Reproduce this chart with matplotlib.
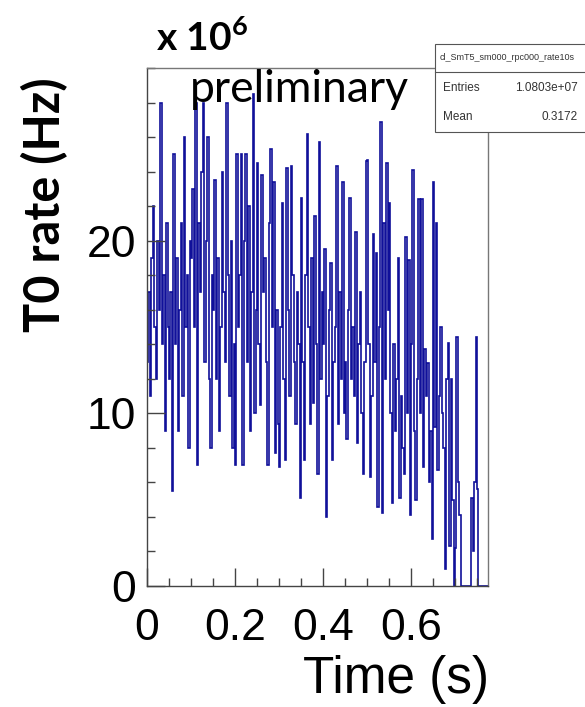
import numpy as np
import matplotlib
matplotlib.use('Agg')
import matplotlib.pyplot as plt
from matplotlib.patches import Rectangle
from matplotlib.lines import Line2D
from matplotlib.ticker import MultipleLocator

# T0 rate per bin, in units of 1e6 Hz (one row per 0.05 s)
rate = [
    13, 17, 11, 19, 22, 15, 12, 20, 16, 28, 14, 18, 9, 21, 15,
    12, 17, 5.5, 25, 14, 19, 9, 16, 21, 11, 26, 15, 18, 8, 20,
    19, 23, 15, 28, 7, 21, 17, 24, 28, 13, 20, 26, 12, 8, 18,
    16, 23.5, 12, 19, 9, 15, 24, 17, 13, 28, 18, 11, 20, 8, 14,
    7, 25, 15, 18, 25, 7, 20, 25, 13, 22, 9, 17, 28.5, 10, 16,
    24.5, 14, 10.5, 23.8, 17, 19, 13, 7, 21, 25.3, 15, 23.4, 7.7, 16, 9.4,
    6.9, 15, 22.2, 12, 7.3, 24.2, 16, 11, 24.3, 18, 13, 9.4, 17, 14, 5.1,
    22.5, 13, 7.3, 18, 26.2, 15, 9.4, 19, 10.6, 21.4, 14, 6.5, 25.7, 12, 17,
    14, 19.5, 4, 11, 16, 18.7, 7.3, 13, 15, 24.3, 9.4, 17, 12, 23.4, 10,
    13, 8.5, 16, 22.5, 12, 15, 11, 20.5, 8.3, 14, 17, 10, 6.5, 13, 24.6,
    24.7, 14, 6.3, 11, 20.4, 13, 19.3, 4.6, 15, 26.9, 4.2, 21, 12, 24.5, 16,
    22.2, 10, 4.8, 14, 9, 12, 19, 5.1, 11, 8, 6.5, 20.2, 10, 18.9, 4.1,
    14, 24.1, 9, 5, 12, 22.4, 10, 22.4, 6.9, 13.7, 11, 12.9, 6, 9, 2.7,
    23.4, 9.2, 21, 6.7, 11, 15, 10, 8, 1, 12, 14.1, 2.3, 12, 5, 0,
    2.2, 14.4, 6, 4.1, 0, 0, 0, 0, 0, 0, 0, 5.1, 2, 6, 14.4,
    5.6, 0, 0, 0, 0, 0, 0, 0,
]
bin_width = 1 / 300.0

x_ticks = [0, 0.2, 0.4, 0.6]
x_tick_labels = ['0', '0.2', '0.4', '0.6']
y_ticks = [0, 10, 20]
y_tick_labels = ['0', '10', '20']

hist_name = 'cl_SmT5_sm000_rpc000_rate10s'
entries = '1.0803e+07'
mean = '0.3172'

plt.rcParams['mathtext.fontset'] = 'custom'
plt.rcParams['mathtext.bf'] = 'Lato:bold'
plt.rcParams['mathtext.rm'] = 'Lato'


def main():
    fig = plt.figure(figsize=(5.85, 7.07), dpi=100)
    ax = fig.add_axes([147 / 585, 1 - 586 / 707, 341 / 585, 518 / 707])

    edges = np.arange(len(rate) + 1) * bin_width
    ax.stairs(rate, edges, baseline=0, color='#10109a', linewidth=1.2)

    ax.set_xlim(0, 0.775)
    ax.set_ylim(0, 30)

    ax.set_xticks(x_ticks)
    ax.set_xticklabels(x_tick_labels)
    ax.set_yticks(y_ticks)
    ax.set_yticklabels(y_tick_labels)
    ax.xaxis.set_minor_locator(MultipleLocator(0.05))
    ax.yaxis.set_minor_locator(MultipleLocator(2))
    ax.tick_params(which='major', direction='in', length=13, width=1, color='#444444',
                   labelsize=32, top=False, right=False)
    ax.tick_params(which='minor', direction='in', length=6, width=1, color='#444444',
                   top=False, right=False)
    ax.tick_params(axis='x', pad=16)
    ax.tick_params(axis='y', pad=8)
    for lab in ax.get_xticklabels() + ax.get_yticklabels():
        lab.set_family('Liberation Sans')

    for s in ax.spines.values():
        s.set_color('#777777')
        s.set_linewidth(1)
    ax.spines['left'].set_color('#444444')
    ax.spines['bottom'].set_color('#444444')

    fig.text(489 / 585, 1 - 680 / 707, 'Time (s)', ha='right', va='center',
             fontsize=37, family='Liberation Sans')
    fig.text(45 / 585, 1 - 205 / 707, 'T0 rate (Hz)', rotation=90, ha='center', va='center',
             fontsize=35, fontweight='bold', family='Lato')
    fig.text(156 / 585, 1 - 38 / 707, r'x 10$^{\mathbf{6}}$', ha='left', va='center',
             fontsize=28, fontweight='bold', family='Lato')
    fig.text(190 / 585, 1 - 90 / 707, 'preliminary', ha='left', va='center',
             fontsize=32, family='Lato')

    # stats box, top right, partly off the figure
    fig.patches.append(Rectangle((435 / 585, 1 - 132 / 707), 170 / 585, 88 / 707,
                                 transform=fig.transFigure, facecolor='white',
                                 edgecolor='#555555', linewidth=0.8, zorder=5))
    fig.lines.append(Line2D([435 / 585, 1.0], [1 - 72 / 707, 1 - 72 / 707],
                            transform=fig.transFigure, color='#555555', linewidth=0.8, zorder=6))
    fig.text(507 / 585, 1 - 58 / 707, hist_name, ha='center', va='center', fontsize=6.5,
             family='Liberation Sans', color='#333333', zorder=7)
    fig.text(443 / 585, 1 - 88 / 707, 'Entries', ha='left', va='center', fontsize=8.5,
             family='Liberation Sans', color='#333333', zorder=7)
    fig.text(578 / 585, 1 - 88 / 707, entries, ha='right', va='center', fontsize=8.5,
             family='Liberation Sans', color='#333333', zorder=7)
    fig.text(443 / 585, 1 - 117 / 707, 'Mean', ha='left', va='center', fontsize=8.5,
             family='Liberation Sans', color='#333333', zorder=7)
    fig.text(578 / 585, 1 - 117 / 707, mean, ha='right', va='center', fontsize=8.5,
             family='Liberation Sans', color='#333333', zorder=7)

    fig.savefig('out.png', dpi=100)


if __name__ == '__main__':
    main()
